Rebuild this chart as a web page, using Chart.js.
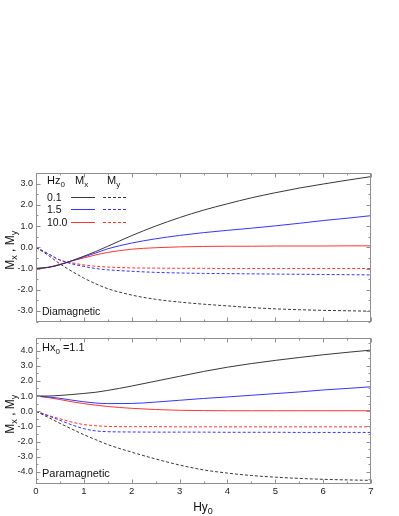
<!DOCTYPE html>
<html><head><meta charset="utf-8">
<script src="https://cdn.jsdelivr.net/npm/chart.js@4/dist/chart.umd.min.js"></script>
<style>
html,body{margin:0;padding:0;background:#fff;width:399px;height:516px;overflow:hidden}
canvas{position:absolute;left:0}
#c1{top:0}#c2{top:330px}
</style></head><body>
<canvas id="c1" width="399" height="330"></canvas>
<canvas id="c2" width="399" height="186"></canvas>
<script>
// ---- data ----
const hy = [0,0.25,0.5,0.75,1,1.25,1.5,2,2.5,3,3.5,4,4.5,5,5.5,6,6.5,7];
const hzLabels = ['0.1','1.5','10.0'];
const xTicks = [0,1,2,3,4,5,6,7];
const yTicksTop = [-3,-2,-1,0,1,2,3];
const yTicksBottom = [-4,-3,-2,-1,0,1,2,3,4];

// Diamagnetic (top)
const diaMx01  = [-1.0,-0.95,-0.82,-0.63,-0.42,-0.2,0.05,0.55,1.0,1.4,1.75,2.05,2.33,2.57,2.79,2.98,3.16,3.33];
const diaMx15  = [-1.0,-0.95,-0.82,-0.64,-0.45,-0.27,-0.07,0.2,0.4,0.56,0.69,0.8,0.9,1.01,1.13,1.26,1.37,1.49];
const diaMx100 = [-1.0,-0.94,-0.8,-0.64,-0.5,-0.36,-0.24,-0.09,-0.02,0.02,0.04,0.05,0.05,0.06,0.06,0.06,0.07,0.07];
const diaMy01  = [0,-0.37,-0.78,-1.13,-1.45,-1.72,-1.95,-2.25,-2.45,-2.58,-2.68,-2.76,-2.84,-2.9,-2.94,-2.97,-2.99,-3.01];
const diaMy15  = [0,-0.3,-0.6,-0.78,-0.9,-1.0,-1.06,-1.13,-1.18,-1.21,-1.23,-1.24,-1.25,-1.26,-1.27,-1.28,-1.29,-1.3];
const diaMy100 = [0,-0.3,-0.6,-0.73,-0.83,-0.89,-0.93,-0.97,-0.98,-0.99,-0.99,-1.0,-1.0,-1.0,-1.0,-1.0,-1.0,-1.0];

// Paramagnetic (bottom), Hx0 = 1.1
const parMx01  = [1.0,1.0,1.04,1.1,1.17,1.25,1.37,1.66,1.98,2.3,2.62,2.9,3.14,3.35,3.54,3.72,3.88,4.03];
const parMx15  = [1.0,0.94,0.85,0.73,0.62,0.54,0.5,0.51,0.6,0.72,0.84,0.94,1.05,1.16,1.27,1.4,1.5,1.61];
const parMx100 = [1.0,0.9,0.77,0.62,0.5,0.4,0.31,0.19,0.11,0.06,0.04,0.03,0.03,0.03,0.03,0.03,0.03,0.03];
const parMy01  = [0,-0.4,-0.8,-1.18,-1.55,-1.88,-2.2,-2.7,-3.15,-3.55,-3.87,-4.08,-4.24,-4.35,-4.43,-4.49,-4.53,-4.56];
const parMy15  = [0,-0.3,-0.6,-0.9,-1.15,-1.3,-1.35,-1.37,-1.38,-1.38,-1.38,-1.39,-1.39,-1.39,-1.4,-1.4,-1.4,-1.4];
const parMy100 = [0,-0.27,-0.5,-0.72,-0.88,-0.96,-1.0,-1.02,-1.02,-1.03,-1.03,-1.03,-1.03,-1.03,-1.03,-1.03,-1.03,-1.03];

// ---- styling ----
const COLORS = ['#383838','#3535ff','#ff3535'];
const FONT = '"Liberation Sans", Arial, sans-serif';
const FRAME = '#8f8f8f';

function pts(arr){ return arr.map((v,i)=>({x:hy[i], y:v})); }
function ds(arr, ci, dashed){
  return {data: pts(arr), borderColor: COLORS[ci], borderWidth: 1, borderDash: dashed?[3,2]:[],
    pointRadius: 0, fill: false, cubicInterpolationMode: 'monotone'};
}

function rich(ctx, parts, x, y, size, align){
  const sub = Math.round(size*0.72);
  let w = 0;
  parts.forEach(p=>{ ctx.font = (p[1]?sub:size)+'px '+FONT; w += ctx.measureText(p[0]).width; });
  let cx = align==='center' ? x - w/2 : x;
  parts.forEach(p=>{
    ctx.font = (p[1]?sub:size)+'px '+FONT;
    ctx.fillText(p[0], cx, y + (p[1]? size*0.28 : 0));
    cx += ctx.measureText(p[0]).width;
  });
}

function line(ctx,x1,y1,x2,y2){ ctx.beginPath(); ctx.moveTo(x1,y1); ctx.lineTo(x2,y2); ctx.stroke(); }

function drawFrame(chart){
  const ctx = chart.ctx, a = chart.chartArea, xs = chart.scales.x, ys = chart.scales.y;
  ctx.save();
  ctx.strokeStyle = FRAME; ctx.lineWidth = 1; ctx.setLineDash([]);
  const L = Math.round(a.left)+0.5, R = Math.round(a.right)-0.5, T = Math.round(a.top)+0.5, B = Math.round(a.bottom)-0.5;
  ctx.strokeRect(L, T, R-L, B-T);
  for (let v=0; v<=7.001; v+=0.5){
    const px = Math.round(xs.getPixelForValue(v))+0.5, len = Math.abs(v%1)<1e-6 ? 4 : 2;
    line(ctx, px, T, px, T+len); line(ctx, px, B, px, B-len);
  }
  for (let v=Math.ceil(ys.min*2)/2; v<=ys.max+1e-6; v+=0.5){
    const py = Math.round(ys.getPixelForValue(v))+0.5, len = Math.abs(v%1)<1e-6 ? 4 : 2;
    line(ctx, L, py, L+len, py); line(ctx, R, py, R-len, py);
  }
  const cy = (a.top + a.bottom)/2 + 3;
  ctx.save();
  ctx.translate(14, cy); ctx.rotate(-Math.PI/2);
  ctx.fillStyle = '#111'; ctx.textBaseline = 'alphabetic';
  rich(ctx, [['M',0],['x',1],[' , ',0],['M',0],['y',1]], 0, 0, 12, 'center');
  ctx.restore();
  ctx.restore();
}

function makePlugin(extra){
  return { id:'frameDeco', afterDatasetsDraw(chart){ drawFrame(chart); extra(chart); } };
}

function yAxis(min, max, ticks){
  return { type:'linear', min, max,
    afterBuildTicks(s){ s.ticks = ticks.map(v=>({value:v})); },
    afterFit(s){ s.width = 36; },
    ticks:{ font:{family:FONT, size:9}, color:'#222', padding:3, callback:v=>Number(v).toFixed(1) },
    grid:{ display:false, drawTicks:false }, border:{ display:false } };
}

function topExtra(chart){
  const ctx = chart.ctx;
  ctx.save(); ctx.fillStyle = '#111'; ctx.textBaseline = 'alphabetic';
  rich(ctx, [['Hz',0],['0',1]], 47, 184, 11, 'left');
  rich(ctx, [['M',0],['x',1]], 75, 184, 11, 'left');
  rich(ctx, [['M',0],['y',1]], 107, 184, 11, 'left');
  const rows = [196.5, 209, 221.5];
  hzLabels.forEach((t,i)=>{
    ctx.fillStyle = '#111'; ctx.font = '10.5px '+FONT;
    ctx.fillText(t, 47, rows[i]+4);
    ctx.strokeStyle = COLORS[i]; ctx.lineWidth = 1;
    const yy = Math.round(rows[i])+0.5;
    ctx.setLineDash([]); line(ctx, 71, yy, 95, yy);
    ctx.setLineDash([3,2]); line(ctx, 103, yy, 126, yy);
  });
  ctx.setLineDash([]);
  ctx.fillStyle = '#111'; ctx.font = '10.5px '+FONT;
  ctx.fillText('Diamagnetic', 42, 315);
  ctx.restore();
}

function bottomExtra(chart){
  const ctx = chart.ctx;
  ctx.save(); ctx.fillStyle = '#111'; ctx.textBaseline = 'alphabetic';
  rich(ctx, [['Hx',0],['0',1],[' =1.1',0]], 42, 21, 11, 'left');
  ctx.font = '11px '+FONT;
  ctx.fillText('Paramagnetic', 42, 147);
  rich(ctx, [['Hy',0],['0',1]], 203, 181, 12, 'center');
  ctx.restore();
}

// ---- top chart ----
new Chart(document.getElementById('c1'), {
  type:'line',
  data:{ datasets:[ ds(diaMx01,0,false), ds(diaMx15,1,false), ds(diaMx100,2,false),
                    ds(diaMy01,0,true), ds(diaMy15,1,true), ds(diaMy100,2,true) ] },
  options:{
    responsive:false, animation:false, devicePixelRatio:1,
    layout:{ padding:{ left:0, top:173, right:28, bottom:5 } },
    scales:{
      x:{ type:'linear', min:0, max:7, display:false },
      y: yAxis(-3.5, 3.5, yTicksTop)
    },
    plugins:{ legend:{display:false}, tooltip:{enabled:false} }
  },
  plugins:[makePlugin(topExtra)]
});

// ---- bottom chart ----
new Chart(document.getElementById('c2'), {
  type:'line',
  data:{ datasets:[ ds(parMx01,0,false), ds(parMx15,1,false), ds(parMx100,2,false),
                    ds(parMy01,0,true), ds(parMy15,1,true), ds(parMy100,2,true) ] },
  options:{
    responsive:false, animation:false, devicePixelRatio:1,
    layout:{ padding:{ left:0, top:3, right:28, bottom:0 } },
    scales:{
      x:{ type:'linear', min:0, max:7,
        afterBuildTicks(s){ s.ticks = xTicks.map(v=>({value:v})); },
        afterFit(s){ s.height = 32; },
        ticks:{ font:{family:FONT, size:9.5}, color:'#222', padding:2, maxRotation:0 },
        grid:{ display:false, drawTicks:false }, border:{ display:false } },
      y: yAxis(-4.8, 4.8, yTicksBottom)
    },
    plugins:{ legend:{display:false}, tooltip:{enabled:false} }
  },
  plugins:[makePlugin(bottomExtra)]
});
</script>
</body></html>
